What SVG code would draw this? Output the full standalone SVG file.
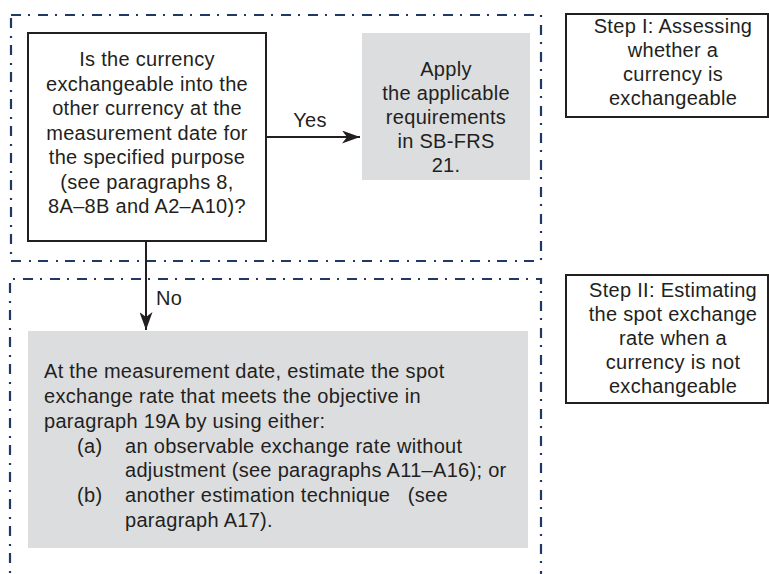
<svg xmlns="http://www.w3.org/2000/svg" width="769" height="574" viewBox="0 0 769 574">
<style>
  text { font-family: "Liberation Sans", Arial, sans-serif; font-size: 20px; letter-spacing: 0.3px; fill: #231f20; }
  .c { text-anchor: middle; }
  .region { fill: none; stroke: #1f3864; stroke-width: 2.2; stroke-dasharray: 10 7 2 8; }
  .box { fill: #ffffff; stroke: #231f20; stroke-width: 2; }
  .grey { fill: #dcdddf; stroke: none; }
  .conn { stroke: #231f20; stroke-width: 2; fill: none; }
</style>
<defs>
  <marker id="arr" viewBox="0 0 18 13" refX="18" refY="6.5" markerWidth="18" markerHeight="13" markerUnits="userSpaceOnUse" orient="auto">
    <path d="M0,0 L18,6.5 L0,13 L5,6.5 Z" fill="#231f20"/>
  </marker>
</defs>
<rect width="769" height="574" fill="#ffffff"/>

<g id="region-step1">
  <rect class="region" x="11" y="15" width="530" height="246"/>
</g>
<g id="region-step2">
  <path class="region" d="M10,590 L10,279 L541,279 L541,590"/>
</g>

<g id="question">
  <rect class="box" x="28" y="33" width="238" height="208"/>
  <text class="c" x="147" y="66">Is the currency</text>
  <text class="c" x="147" y="90.5">exchangeable into the</text>
  <text class="c" x="147" y="115">other currency at the</text>
  <text class="c" x="147" y="139.5">measurement date for</text>
  <text class="c" x="147" y="164">the specified purpose</text>
  <text class="c" x="147" y="188.5">(see paragraphs 8,</text>
  <text class="c" x="147" y="213">8A–8B and A2–A10)?</text>
</g>

<g id="apply">
  <rect class="grey" x="362" y="33" width="168" height="147"/>
  <text class="c" x="446" y="76">Apply</text>
  <text class="c" x="446" y="100">the applicable</text>
  <text class="c" x="446" y="124">requirements</text>
  <text class="c" x="446" y="148">in SB-FRS</text>
  <text class="c" x="446" y="172">21.</text>
</g>

<g id="estimate">
  <rect class="grey" x="28" y="331" width="500" height="217"/>
  <text x="44" y="378">At the measurement date, estimate the spot</text>
  <text x="44" y="403">exchange rate that meets the objective in</text>
  <text x="44" y="428">paragraph 19A by using either:</text>
  <text x="77" y="453">(a)</text>
  <text x="125" y="453">an observable exchange rate without</text>
  <text x="125" y="477">adjustment (see paragraphs A11–A16); or</text>
  <text x="77" y="502">(b)</text>
  <text x="125" y="502" xml:space="preserve">another estimation technique   (see</text>
  <text x="125" y="527">paragraph A17).</text>
</g>

<g id="step1">
  <rect class="box" x="566" y="14" width="202" height="103"/>
  <text class="c" x="673" y="33">Step I: Assessing</text>
  <text class="c" x="673" y="57">whether a</text>
  <text class="c" x="673" y="81">currency is</text>
  <text class="c" x="673" y="105">exchangeable</text>
</g>

<g id="step2">
  <rect class="box" x="566" y="275" width="202" height="128"/>
  <text class="c" x="673" y="297">Step II: Estimating</text>
  <text class="c" x="673" y="321">the spot exchange</text>
  <text class="c" x="673" y="345">rate when a</text>
  <text class="c" x="673" y="369">currency is not</text>
  <text class="c" x="673" y="393">exchangeable</text>
</g>

<g id="connectors">
  <line class="conn" x1="266" y1="137" x2="360" y2="137" marker-end="url(#arr)"/>
  <text class="c" x="310" y="127">Yes</text>
  <line class="conn" x1="146" y1="241" x2="146" y2="330" marker-end="url(#arr)"/>
  <text x="156" y="305">No</text>
</g>
</svg>
